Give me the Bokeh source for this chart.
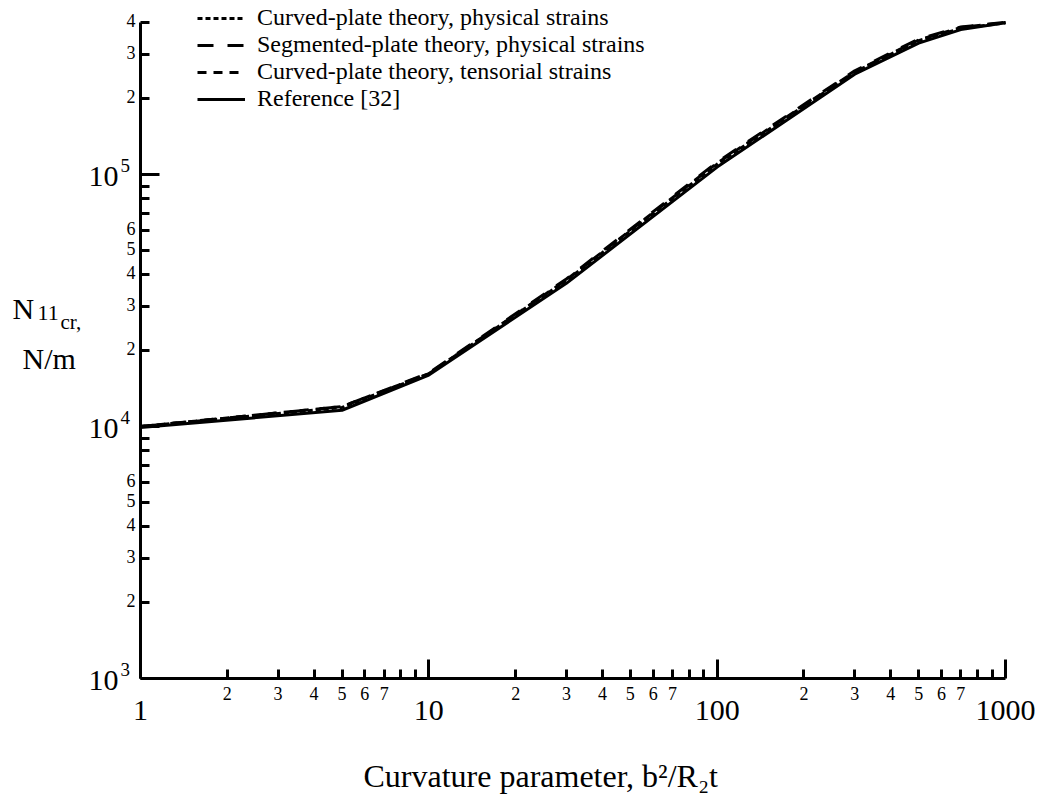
from bokeh.plotting import figure
from bokeh.models import (FixedTicker, Legend, LegendItem, Label, LabelSet,
                          ColumnDataSource, Range1d, CustomJSTickFormatter)
from bokeh.embed import file_html
from bokeh.resources import INLINE
from bokeh.core.properties import value

# ---------------- data ----------------
curvature = [1, 5, 10, 30, 100, 300, 500, 700, 1000]
curved_physical = [1.0e4, 1.19e4, 1.62e4, 3.80e4, 1.10e5, 2.55e5, 3.40e5, 3.80e5, 4.00e5]
segmented_physical = [1.0e4, 1.20e4, 1.63e4, 3.85e4, 1.12e5, 2.58e5, 3.45e5, 3.85e5, 4.02e5]
curved_tensorial = [1.0e4, 1.20e4, 1.62e4, 3.82e4, 1.11e5, 2.56e5, 3.42e5, 3.83e5, 4.01e5]
reference_32 = [0.99e4, 1.16e4, 1.60e4, 3.70e4, 1.07e5, 2.50e5, 3.32e5, 3.76e5, 4.00e5]

series_names = ["Curved-plate theory, physical strains",
                "Segmented-plate theory, physical strains",
                "Curved-plate theory, tensorial strains",
                "Reference [32]"]

x_major = [1, 10, 100, 1000]
x_major_text = ["1", "10", "100", "1000"]
x_minor = [2, 3, 4, 5, 6, 7, 8, 9, 20, 30, 40, 50, 60, 70, 80, 90,
           200, 300, 400, 500, 600, 700, 800, 900]
x_minor_labeled = [2, 3, 4, 5, 6, 7, 20, 30, 40, 50, 60, 70, 200, 300, 400, 500, 600, 700]
x_minor_text = ["2", "3", "4", "5", "6", "7"] * 3

y_major = [1e3, 1e4, 1e5]
y_major_base = ["10", "10", "10"]
y_major_exp = ["3", "4", "5"]
y_minor = [2e3, 3e3, 4e3, 5e3, 6e3, 7e3, 8e3, 9e3,
           2e4, 3e4, 4e4, 5e4, 6e4, 7e4, 8e4, 9e4,
           2e5, 3e5, 4e5]
y_minor_labeled = [2e3, 3e3, 4e3, 5e3, 6e3, 2e4, 3e4, 4e4, 5e4, 6e4, 2e5, 3e5, 4e5]
y_minor_text = ["2", "3", "4", "5", "6", "2", "3", "4", "5", "6", "2", "3", "4"]

x_title = "Curvature parameter, b\u00b2/R\u2082t"

FONT = "Liberation Serif"

# ---------------- layout (pixels) ----------------
W, H = 1044, 796
X0_PX, XDEC_PX = 140.0, 288.33      # pixel of x=1, pixels per decade
Y0_PX, YDEC_PX = 678.0, 252.0       # pixel of y=1e3, pixels per decade
x_lo = 10 ** (-X0_PX / XDEC_PX)
x_hi = 10 ** ((W - X0_PX) / XDEC_PX)
y_hi = 10 ** (3 + Y0_PX / YDEC_PX)
y_lo = 10 ** (3 - (H - Y0_PX) / YDEC_PX)

p = figure(width=W, height=H, x_axis_type="log", y_axis_type="log",
           x_range=Range1d(x_lo, x_hi), y_range=Range1d(y_lo, y_hi),
           output_backend="svg", toolbar_location=None,
           min_border=0, min_border_left=0, min_border_right=0,
           min_border_top=0, min_border_bottom=0)
p.outline_line_color = None
p.xgrid.visible = False
p.ygrid.visible = False
p.background_fill_color = "white"
p.border_fill_color = "white"

blank = CustomJSTickFormatter(code="return ''")
for ax, ticks, minors, bounds, loc in ((p.xaxis[0], x_major, x_minor, (1, 1000), 1e3),
                                       (p.yaxis[0], y_major, y_minor, (1e3, 4e5), 1)):
    ax.ticker = FixedTicker(ticks=ticks, minor_ticks=minors)
    ax.bounds = bounds
    ax.fixed_location = loc
    ax.formatter = blank
    ax.major_label_standoff = 0
    ax.axis_line_width = 3
    ax.axis_line_color = "black"
    ax.major_tick_line_width = 3
    ax.minor_tick_line_width = 3
    ax.major_tick_line_color = "black"
    ax.minor_tick_line_color = "black"
    ax.major_tick_in = 19
    ax.major_tick_out = 0
    ax.minor_tick_in = 9
    ax.minor_tick_out = 0

# ---------------- series ----------------
r1 = p.line(curvature, curved_physical, line_color="black", line_width=3, line_dash="5 3")
r2 = p.line(curvature, segmented_physical, line_color="black", line_width=3, line_dash="16 14")
r3 = p.line(curvature, curved_tensorial, line_color="black", line_width=3, line_dash="9 7")
r4 = p.line(curvature, reference_32, line_color="black", line_width=3)

legend = Legend(items=[LegendItem(label=series_names[0], renderers=[r1]),
                       LegendItem(label=series_names[1], renderers=[r2]),
                       LegendItem(label=series_names[2], renderers=[r3]),
                       LegendItem(label=series_names[3], renderers=[r4])],
                location=(197, H - 112), orientation="vertical",
                glyph_width=48, glyph_height=24, label_height=24,
                label_standoff=12, spacing=0, padding=0, margin=0,
                label_text_font=FONT, label_text_font_size="24px",
                label_text_line_height=1.0,
                label_text_color="black",
                background_fill_alpha=0, border_line_color=None)
p.add_layout(legend, "center")

# ---------------- tick labels ----------------
x_min_src = ColumnDataSource(dict(x=x_minor_labeled, y=[1e3] * len(x_minor_labeled), t=x_minor_text))
p.add_layout(LabelSet(x="x", y="y", text="t", source=x_min_src, text_align="center",
                      text_baseline="top", y_offset=-8, text_font=value(FONT),
                      text_font_size="18px", text_color="black"))
x_maj_src = ColumnDataSource(dict(x=x_major, y=[1e3] * len(x_major), t=x_major_text))
p.add_layout(LabelSet(x="x", y="y", text="t", source=x_maj_src, text_align="center",
                      text_baseline="top", y_offset=-22, text_font=value(FONT),
                      text_font_size="30px", text_color="black"))

y_min_src = ColumnDataSource(dict(x=[1] * len(y_minor_labeled), y=y_minor_labeled, t=y_minor_text))
p.add_layout(LabelSet(x="x", y="y", text="t", source=y_min_src, text_align="right",
                      text_baseline="middle", x_offset=-5, y_offset=2, text_font=value(FONT),
                      text_font_size="18px", text_color="black"))
y_maj_src = ColumnDataSource(dict(x=[1] * len(y_major), y=y_major, t=y_major_base, e=y_major_exp))
p.add_layout(LabelSet(x="x", y="y", text="t", source=y_maj_src, text_align="right",
                      text_baseline="middle", x_offset=-22, y_offset=-2, text_font=value(FONT),
                      text_font_size="30px", text_color="black"))
p.add_layout(LabelSet(x="x", y="y", text="e", source=y_maj_src, text_align="left",
                      text_baseline="middle", x_offset=-20, y_offset=9, text_font=value(FONT),
                      text_font_size="19px", text_color="black"))

# ---------------- axis titles ----------------
def lab(txt, x, y_from_top, size):
    p.add_layout(Label(x=x, y=H - y_from_top, x_units="screen", y_units="screen", text=txt,
                       text_font=FONT, text_font_size=size, text_color="black",
                       text_align="left", text_baseline="alphabetic"))

lab("N", 12, 308, "30px")
lab("11", 37, 312, "22px")
lab("cr,", 60, 321, "21px")
lab("N/m", 22, 358, "30px")
lab(x_title, 363, 775, "32px")

open("out.html", "w").write(file_html(p, INLINE))
